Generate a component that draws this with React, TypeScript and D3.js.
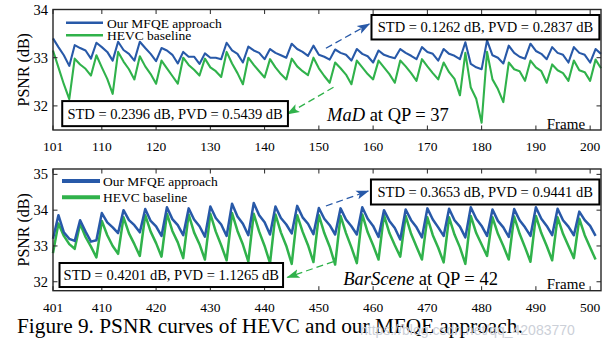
import React from 'react';
import * as d3 from 'd3';

// PSNR curves, Figure 9 of the MFQE paper

const BLUE = '#2859a8';
const GREEN = '#30b24b';
const AXIS = '#262626';
const SERIF = '"Liberation Serif", "Times New Roman", serif';

const seriesNames = ['Our MFQE approach', 'HEVC baseline'];

// MaD at QP = 37, frames 101..202
const madFrames = d3.range(101, 203);
const madOurs = [
  33.40, 33.22, 33.05, 32.83, 33.26, 33.20, 33.15, 32.98, 33.31, 33.22, 33.12, 32.94,
  33.33, 33.16, 33.08, 32.94, 33.33, 33.20, 33.08, 32.93, 33.20, 33.15, 33.06, 32.88,
  33.12, 33.02, 33.02, 32.87, 33.09, 33.00, 33.00, 32.97, 33.31, 33.15, 33.08, 32.90,
  33.23, 33.15, 33.10, 32.97, 33.18, 33.10, 33.05, 33.00, 33.29, 33.18, 33.12, 33.04,
  33.25, 33.06, 33.02, 32.96, 33.17, 33.10, 33.06, 32.94, 33.18, 33.08, 33.03, 32.90,
  33.15, 33.06, 33.02, 32.99, 33.18, 33.10, 33.04, 32.97, 33.22, 33.12, 33.08, 32.94,
  33.18, 33.08, 33.04, 32.97, 33.32, 32.87, 32.80, 32.76, 33.36, 33.05, 33.00, 32.88,
  33.25, 33.10, 33.02, 32.98, 33.29, 33.14, 33.08, 32.97, 33.22, 33.10, 33.06, 32.90,
  33.22, 33.10, 33.06, 32.90, 33.18, 33.08,
];
const madHevc = [
  33.15, 32.80, 32.45, 32.14, 32.98, 32.86, 32.77, 32.63, 33.05, 32.80, 32.56, 32.25,
  33.12, 32.92, 32.76, 32.55, 33.03, 32.82, 32.66, 32.46, 32.94, 32.78, 32.62, 32.46,
  33.00, 32.85, 32.75, 32.63, 32.98, 32.80, 32.72, 32.60, 33.12, 32.88, 32.68, 32.45,
  33.00, 32.85, 32.72, 32.59, 32.97, 32.80, 32.66, 32.55, 32.98, 32.82, 32.72, 32.64,
  33.00, 32.78, 32.62, 32.48, 32.90, 32.78, 32.65, 32.45, 32.94, 32.80, 32.66, 32.55,
  32.94, 32.80, 32.66, 32.48, 32.94, 32.82, 32.68, 32.52, 32.97, 32.82, 32.68, 32.55,
  32.90, 32.70, 32.56, 32.22, 33.10, 32.38, 32.15, 31.65, 33.12, 32.55, 32.35, 32.08,
  32.90, 32.76, 32.72, 32.52, 32.94, 32.80, 32.72, 32.48, 32.86, 32.74, 32.68, 32.52,
  32.94, 32.74, 32.70, 32.52, 32.96, 32.78,
];
const madXTicks = [101, 110, 120, 130, 140, 150, 160, 170, 180, 190, 200];
const madYTicks = [32, 33, 34];

// BarScene at QP = 42, frames 401..501
const barFrames = d3.range(401, 502);
const barOurs = [
  33.20,
  33.86, 33.38, 33.20, 33.14, 33.72, 33.40, 33.12, 33.16, 33.92, 33.66, 33.52, 33.36,
  34.00, 33.72, 33.58, 33.38, 34.03, 33.70, 33.55, 33.28, 34.08, 33.75, 33.58, 33.30,
  34.05, 33.74, 33.55, 33.26, 34.10, 33.78, 33.60, 33.28, 34.18, 33.82, 33.62, 33.30,
  34.20, 33.86, 33.66, 33.32, 34.10, 33.78, 33.60, 33.35, 34.12, 33.80, 33.62, 33.33,
  34.06, 33.76, 33.58, 33.32, 34.05, 33.74, 33.55, 33.32, 34.08, 33.76, 33.56, 33.25,
  34.00, 33.70, 33.50, 33.18, 34.02, 33.72, 33.52, 33.24, 34.05, 33.74, 33.52, 33.28,
  34.04, 33.72, 33.54, 33.24, 34.08, 33.76, 33.56, 33.28, 34.02, 33.70, 33.52, 33.25,
  34.03, 33.72, 33.52, 33.28, 34.08, 33.76, 33.56, 33.30, 34.04, 33.72, 33.54, 33.30,
  33.96, 33.72, 33.56, 33.28,
];
const barHevc = [
  32.80,
  33.63, 33.28, 33.05, 32.92, 33.62, 33.25, 32.98, 32.68, 33.70, 33.30, 33.00, 32.78,
  33.80, 33.35, 33.05, 32.72, 33.86, 33.40, 33.08, 32.70, 33.90, 33.42, 33.10, 32.66,
  33.88, 33.38, 33.05, 32.62, 33.90, 33.40, 33.02, 32.60, 33.92, 33.42, 33.04, 32.56,
  33.90, 33.40, 33.00, 32.52, 33.88, 33.38, 33.00, 32.50, 33.86, 33.40, 33.02, 32.55,
  33.86, 33.36, 32.98, 32.48, 33.84, 33.36, 32.96, 32.52, 33.88, 33.38, 33.02, 32.62,
  33.86, 33.36, 33.02, 32.70, 33.84, 33.34, 32.98, 32.62, 33.80, 33.30, 32.95, 32.54,
  33.80, 33.32, 32.96, 32.50, 33.84, 33.36, 33.04, 32.72, 33.80, 33.34, 33.00, 32.62,
  33.82, 33.34, 32.96, 32.56, 33.84, 33.36, 33.00, 32.60, 33.80, 33.34, 33.00, 32.66,
  33.76, 33.30, 32.96, 32.62,
];
const barXTicks = [401, 410, 420, 430, 440, 450, 460, 470, 480, 490, 500];
const barYTicks = [32, 33, 34, 35];

type Ann = {
  upperBox: [number, number, number, number];
  lowerBox: [number, number, number, number];
  upperText: string;
  lowerText: string;
  blueArrow: [number, number, number, number];
  greenArrow: [number, number, number, number];
  title: [number, number];
  seq: string;
  qp: string;
  frameAt: [number, number];
};

const madAnn: Ann = {
  upperBox: [159.7, 201.7, 33.886, 33.378],
  lowerBox: [102.7, 144.3, 32.10, 31.58],
  upperText: 'STD = 0.1262 dB, PVD = 0.2837 dB',
  lowerText: 'STD = 0.2396 dB, PVD = 0.5439 dB',
  blueArrow: [151.3, 33.195, 159.3, 33.70],
  greenArrow: [152.7, 32.386, 144.2, 31.83],
  title: [151.5, 31.69],
  seq: 'MaD',
  qp: ' at QP = 37',
  frameAt: [192.0, 31.53],
};

const barAnn: Ann = {
  upperBox: [459.6, 501.7, 34.857, 34.158],
  lowerBox: [402.2, 443.4, 32.524, 31.853],
  upperText: 'STD = 0.3653 dB, PVD = 0.9441 dB',
  lowerText: 'STD = 0.4201 dB, PVD = 1.1265 dB',
  blueArrow: [451.3, 34.116, 459.1, 34.535],
  greenArrow: [452.7, 32.56, 444.2, 32.124],
  title: [454.5, 31.909],
  seq: 'BarScene',
  qp: ' at QP = 42',
  frameAt: [492.0, 31.797],
};

type PanelProps = {
  id: string;
  frames: number[];
  ours: number[];
  hevc: number[];
  xDomain: [number, number];
  yDomain: [number, number];
  xTicks: number[];
  yTicks: number[];
  top: number;
  bottom: number;
  lineWidth: number;
  legendWidth: number;
  legendY: [number, number];
  legendX: [number, number, number];
  ann: Ann;
};

const left = 53;
const right = 601;

const Panel = (p: PanelProps) => {
  const x = d3.scaleLinear().domain(p.xDomain).range([left, right]);
  const y = d3.scaleLinear().domain(p.yDomain).range([p.bottom, p.top]);
  const line = d3.line<number>().x((_, i) => x(p.frames[i])).y(d => y(d));
  const a = p.ann;
  const tick = 4.5;

  const box = (b: [number, number, number, number], text: string) => (
    <g>
      <rect x={x(b[0])} y={y(b[2])} width={x(b[1]) - x(b[0])} height={y(b[3]) - y(b[2])}
        fill="white" stroke="black" strokeWidth={2} />
      <text x={(x(b[0]) + x(b[1])) / 2} y={(y(b[2]) + y(b[3])) / 2 + 5}
        textAnchor="middle" fontSize={14.5} fontFamily={SERIF}>{text}</text>
    </g>
  );

  const arrow = (ar: [number, number, number, number], color: string, m: string) => (
    <line x1={x(ar[0])} y1={y(ar[1])} x2={x(ar[2])} y2={y(ar[3])} stroke={color}
      strokeWidth={1.3} strokeDasharray="7 4" markerEnd={`url(#${m})`} />
  );

  return (
    <g>
      <defs>
        {[['b', BLUE], ['g', GREEN]].map(([k, c]) => (
          <marker key={k} id={`${p.id}-${k}`} markerUnits="userSpaceOnUse" markerWidth={14}
            markerHeight={10} refX={12} refY={5} orient="auto">
            <path d="M0,0.5 L13,5 L0,9.5 L3,5 Z" fill={c} />
          </marker>
        ))}
      </defs>

      <path d={line(p.hevc) || ''} fill="none" stroke={GREEN} strokeWidth={p.lineWidth} strokeLinejoin="round" />
      <path d={line(p.ours) || ''} fill="none" stroke={BLUE} strokeWidth={p.lineWidth} strokeLinejoin="round" />

      {/* frame + inward ticks on all four sides */}
      <rect x={left} y={p.top} width={right - left} height={p.bottom - p.top}
        fill="none" stroke={AXIS} strokeWidth={1.4} />
      {p.xTicks.map(t => (
        <g key={t}>
          <line x1={x(t)} x2={x(t)} y1={p.bottom} y2={p.bottom - tick} stroke={AXIS} />
          <line x1={x(t)} x2={x(t)} y1={p.top} y2={p.top + tick} stroke={AXIS} />
          <text x={x(t)} y={p.bottom + 21} textAnchor="middle" fontSize={13.5} fontFamily={SERIF}>{t}</text>
        </g>
      ))}
      {p.yTicks.map(t => (
        <g key={t}>
          <line x1={left} x2={left + tick} y1={y(t)} y2={y(t)} stroke={AXIS} />
          <line x1={right} x2={right - tick} y1={y(t)} y2={y(t)} stroke={AXIS} />
          <text x={left - 5} y={y(t) + 5} textAnchor="end" fontSize={14.5} fontFamily={SERIF}>{t}</text>
        </g>
      ))}
      <text transform={`translate(29,${(p.top + p.bottom) / 2}) rotate(-90)`} textAnchor="middle"
        fontSize={16} fontFamily={SERIF}>PSNR (dB)</text>

      {/* legend */}
      {[BLUE, GREEN].map((c, i) => (
        <g key={c}>
          <line x1={p.legendX[0]} x2={p.legendX[1]} y1={p.legendY[i]} y2={p.legendY[i]}
            stroke={c} strokeWidth={p.legendWidth} />
          <text x={p.legendX[2]} y={p.legendY[i] + 4.8} fontSize={13.5} fontFamily={SERIF}>{seriesNames[i]}</text>
        </g>
      ))}

      {arrow(a.blueArrow, BLUE, `${p.id}-b`)}
      {arrow(a.greenArrow, GREEN, `${p.id}-g`)}
      {box(a.upperBox, a.upperText)}
      {box(a.lowerBox, a.lowerText)}

      <text x={x(a.title[0])} y={y(a.title[1])} fontSize={18.5} fontFamily={SERIF}>
        <tspan fontStyle="italic">{a.seq}</tspan>
        <tspan>{a.qp}</tspan>
      </text>
      <text x={x(a.frameAt[0])} y={y(a.frameAt[1])} fontSize={15} fontFamily={SERIF}>Frame</text>
    </g>
  );
};

const App = () => (
  <svg width={616} height={350} viewBox="0 0 616 350"
    style={{ position: 'absolute', left: 0, top: 0, background: 'white' }}>
    <rect width={616} height={350} fill="white" />
    <Panel id="mad" frames={madFrames} ours={madOurs} hevc={madHevc}
      xDomain={[101, 202]} yDomain={[31.5, 34]} xTicks={madXTicks} yTicks={madYTicks}
      top={9.5} bottom={130} lineWidth={2.1} legendWidth={2.4}
      legendY={[22.7, 35.2]} legendX={[66, 103, 107]} ann={madAnn} />
    <Panel id="bar" frames={barFrames} ours={barOurs} hevc={barHevc}
      xDomain={[401, 502]} yDomain={[31.75, 35.15]} xTicks={barXTicks} yTicks={barYTicks}
      top={169} bottom={290.7} lineWidth={2.5} legendWidth={4}
      legendY={[181, 197.3]} legendX={[62, 100, 103]} ann={barAnn} />
    <text x={17} y={333} fontSize={21.3} fontFamily={SERIF}>
      Figure 9. PSNR curves of HEVC and our MFQE approach.
    </text>
    <text x={360} y={335} fontSize={14} fontFamily='"Liberation Sans", Arial, sans-serif' fill="#ccd0d8">
      https://blog.csdn.net/qq_42083770
    </text>
  </svg>
);

export default App;
